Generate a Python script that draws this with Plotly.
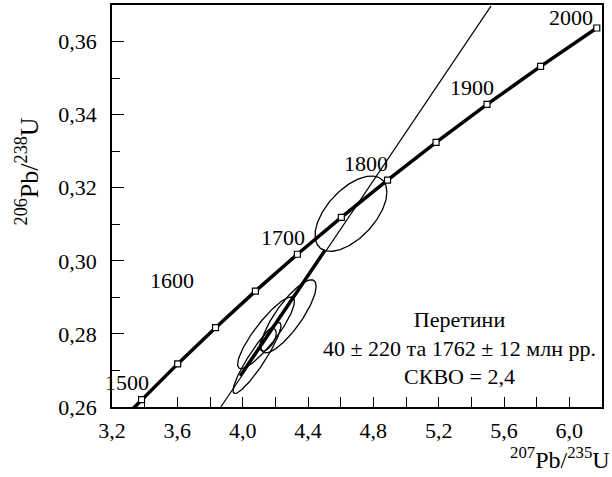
import numpy as np
import plotly.graph_objects as go

# Concordia (ages in Ma, ratios)
conc_age = [1480, 1500, 1550, 1600, 1650, 1700, 1750, 1800, 1850, 1900, 1950, 2000]
conc_x = [3.296, 3.381, 3.602, 3.834, 4.078, 4.335, 4.604, 4.887, 5.184, 5.496, 5.824, 6.168]
conc_y = [0.2581, 0.2620, 0.2718, 0.2817, 0.2917, 0.3018, 0.3119, 0.3221, 0.3324, 0.3428, 0.3532, 0.3637]
marker_ages = [1500, 1550, 1600, 1650, 1700, 1750, 1800, 1850, 1900, 1950, 2000]

label_ages = ["1500", "1600", "1700", "1800", "1900", "2000"]
label_x = [3.289, 3.567, 4.244, 4.758, 5.407, 6.013]
label_y = [0.2667, 0.2945, 0.3064, 0.3266, 0.3474, 0.3667]

# Discordia line and regression segment
disc_x = [3.866, 5.52]
disc_y = [0.2600, 0.3697]
seg_x = [3.984, 4.504]
seg_y = [0.2685, 0.3030]

# Analyses: centre, half-extent and error correlation
ell_x = [4.088, 4.143, 4.155, 4.281, 4.663]
ell_sx = [0.147, 0.174, 0.051, 0.169, 0.220]
ell_y = [0.2734, 0.2803, 0.2784, 0.2848, 0.3129]
ell_sy = [0.0097, 0.0098, 0.0031, 0.0100, 0.0103]
ell_rho = [0.918, 0.877, 0.586, 0.824, 0.572]

x_ticks = [3.2, 3.6, 4.0, 4.4, 4.8, 5.2, 5.6, 6.0]
x_ticktext = ["3,2", "3,6", "4,0", "4,4", "4,8", "5,2", "5,6", "6,0"]
y_ticks = [0.26, 0.28, 0.30, 0.32, 0.34, 0.36]
y_ticktext = ["0,26", "0,28", "0,30", "0,32", "0,34", "0,36"]

FONT = "Times New Roman"
fig = go.Figure()

t = np.linspace(0, 2 * np.pi, 200)
for cx, sx, cy, sy, r in zip(ell_x, ell_sx, ell_y, ell_sy, ell_rho):
    ex = cx + sx * np.cos(t)
    ey = cy + sy * (r * np.cos(t) + np.sqrt(1 - r * r) * np.sin(t))
    fig.add_trace(go.Scatter(x=ex, y=ey, mode="lines",
                             line=dict(color="black", width=1.3),
                             hoverinfo="skip", showlegend=False))

fig.add_trace(go.Scatter(x=disc_x, y=disc_y, mode="lines",
                         line=dict(color="black", width=1.2), showlegend=False))
fig.add_trace(go.Scatter(x=seg_x, y=seg_y, mode="lines",
                         line=dict(color="black", width=3), showlegend=False))

fig.add_trace(go.Scatter(x=conc_x, y=conc_y, mode="lines",
                         line=dict(color="black", width=3.5), showlegend=False))
mx = [x for a, x in zip(conc_age, conc_x) if a in marker_ages]
my = [y for a, y in zip(conc_age, conc_y) if a in marker_ages]
fig.add_trace(go.Scatter(x=mx, y=my, mode="markers",
                         marker=dict(symbol="square", size=6, color="white",
                                     line=dict(color="black", width=1.2)),
                         showlegend=False))

for txt, x, y in zip(label_ages, label_x, label_y):
    fig.add_annotation(x=x, y=y, text=txt, showarrow=False,
                       font=dict(family=FONT, size=22, color="black"))

fig.add_annotation(x=5.33, y=0.2762,
                   text="Перетини<br>40 ± 220 та 1762 ± 12 млн рр.<br>СКВО = 2,4",
                   showarrow=False, align="center",
                   font=dict(family=FONT, size=22, color="black"))

fig.add_annotation(x=-0.21, y=0.585, xref="paper", yref="paper", textangle=-90,
                   text="<sup>206</sup>Pb/<sup>238</sup>U", showarrow=False,
                   font=dict(family=FONT, size=26, color="black"))
fig.add_annotation(x=1.02, y=-0.17, xref="paper", yref="paper", xanchor="right",
                   text="<sup>207</sup>Pb/<sup>235</sup>U", showarrow=False,
                   font=dict(family=FONT, size=24, color="black"))

fig.update_xaxes(range=[3.2, 6.2], tickvals=x_ticks, ticktext=x_ticktext,
                 ticks="inside", ticklen=10, tickwidth=1.2, tickcolor="black",
                 minor=dict(tickvals=[3.4, 3.8, 4.2, 4.6, 5.0, 5.4, 5.8], ticks="inside",
                            ticklen=10, tickwidth=1.2, tickcolor="black"),
                 showline=True, linecolor="black", linewidth=1.5, mirror=True,
                 showgrid=False, zeroline=False, ticklabelstandoff=3, automargin=False,
                 tickfont=dict(family=FONT, size=22, color="black"))
fig.update_yaxes(range=[0.26, 0.37], tickvals=y_ticks, ticktext=y_ticktext,
                 ticks="inside", ticklen=12, tickwidth=1.2, tickcolor="black",
                 minor=dict(tickvals=[0.27, 0.29, 0.31, 0.33, 0.35], ticks="inside",
                            ticklen=8, tickwidth=1.2, tickcolor="black"),
                 showline=True, linecolor="black", linewidth=1.5, mirror=True,
                 showgrid=False, zeroline=False, ticklabelstandoff=9, automargin=False,
                 tickfont=dict(family=FONT, size=22, color="black"))

fig.update_layout(width=612, height=477, margin=dict(l=112, r=10, t=5, b=70),
                  plot_bgcolor="white", paper_bgcolor="white", showlegend=False)

fig.write_html("out.html", config={"displayModeBar": False},
               post_script="document.body.style.margin='0';")
